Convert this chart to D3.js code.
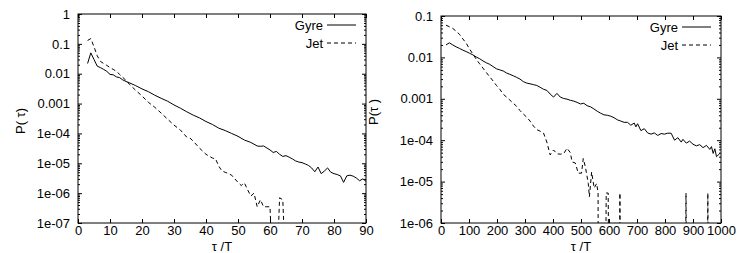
<!DOCTYPE html>
<html>
<head>
<meta charset="utf-8">
<script src="https://cdn.jsdelivr.net/npm/d3@7"></script>
<style>
  body { margin: 0; background: #fff; }
  svg { display: block; }
  text { font-family: "Liberation Sans", Arial, sans-serif; fill: #000; }
</style>
</head>
<body>
<div id="chart"></div>
<script>
//data, left panel (tau/T up to 90)//
var gyreLeftT = [3,4,5,6,7,8,9,10,11,12,13,14,15,16,18,20,22,24,26,28,30,32,34,36,38,40,42,44,46,48,50,52,54,56,57,58,60,61,62,63,64,65,66,67,68,69,70,71,72,73,74,75,76,77,78,79,80,81,82,83,84,85,86,87,88,89,90];
var gyreLeftP = [0.022,0.05,0.03,0.018,0.016,0.014,0.012,0.0095,0.0092,0.0078,0.0074,0.0062,0.0055,0.005,0.004,0.0031,0.0025,0.0019,0.0015,0.0012,9e-4,7e-4,5.3e-4,4.1e-4,3.3e-4,2.5e-4,2e-4,1.5e-4,1.25e-4,1e-4,8e-5,6e-5,5e-5,3.8e-5,3.7e-5,3.8e-5,2.8e-5,2.3e-5,2.5e-5,2e-5,1.7e-5,1.8e-5,1.6e-5,1.4e-5,1.2e-5,1.1e-5,1.05e-5,9.5e-6,8.5e-6,7e-6,5.2e-6,7.5e-6,4.5e-6,5.5e-6,7e-6,5e-6,4.5e-6,4.2e-6,3.8e-6,2.3e-6,3.8e-6,4e-6,3.7e-6,3.2e-6,2.6e-6,3e-6,2.5e-6];

var jetLeftT = [3,4,5,6,7,8,9,10,11,12,13,14,15,16,18,20,22,24,26,28,30,32,34,35,36,38,40,42,43,44,45,46,47,48,49,50,51,52,53,54,55,56,57,58,59,60,61,62,63,64,65];
var jetLeftP = [0.13,0.15,0.08,0.04,0.026,0.022,0.019,0.016,0.014,0.012,0.0095,0.0075,0.006,0.0045,0.0028,0.0018,0.0011,7.5e-4,4.8e-4,3e-4,1.9e-4,1.3e-4,7.5e-5,7e-5,5.5e-5,3.2e-5,2e-5,1.5e-5,1.4e-5,8e-6,5.5e-6,5e-6,4.5e-6,4e-6,3e-6,2.3e-6,1.8e-6,2.2e-6,1.3e-6,8e-7,1e-6,3.5e-7,6e-7,3.5e-7,3.5e-7,3.5e-7,1e-9,1e-9,7e-7,6e-7,1e-9];

//data, right panel (tau/T up to 1000)//
var gyreRightT = [18,30,42,54,66,78,90,102,114,126,138,150,162,174,186,198,210,222,234,246,258,270,282,294,306,318,330,342,354,366,378,390,402,414,426,438,450,462,474,486,498,510,522,534,546,558,570,582,594,606,618,630,642,654,666,678,690,696,702,714,726,738,750,762,774,786,798,810,822,834,846,858,864,876,888,900,912,924,936,948,960,966,972,978,984,996];
var gyreRightP = [0.02,0.0225,0.02,0.018,0.0165,0.015,0.0138,0.0126,0.0115,0.0102,0.0093,0.0082,0.0074,0.0068,0.006,0.0053,0.005,0.0047,0.0042,0.0039,0.0036,0.0033,0.003,0.0026,0.0024,0.0023,0.0022,0.0021,0.0019,0.0017,0.0016,0.0013,0.0011,0.00135,0.0011,0.00102,0.00098,0.00092,0.00088,0.00082,0.00075,0.00078,0.00068,0.00064,0.00057,0.0005,0.00045,0.00041,0.0004,0.00038,0.00035,0.00031,0.00029,0.00027,0.00027,0.00023,0.00026,0.00021,0.00025,0.00017,0.00019,0.00015,0.00014,0.00015,0.00013,0.000145,0.00014,0.000148,0.000147,0.0001,0.000115,0.00009,0.000105,0.000085,0.000095,0.00008,0.000073,0.000078,0.000066,0.000075,0.00006,0.00007,0.000048,0.000062,0.00004,0.000048];

var jetRightT = [18,30,42,54,66,78,90,102,114,126,138,150,162,174,186,198,210,222,234,246,258,270,282,294,306,318,330,342,354,366,378,390,402,414,426,438,450,462,468,480,490,502,508,516,526,530,538,547,556,561,562,586,590,597,601,636,639,642,872,875,878,950,953,956];
var jetRightP = [0.06,0.055,0.05,0.043,0.036,0.028,0.022,0.016,0.012,0.009,0.007,0.0055,0.0043,0.0034,0.0027,0.0021,0.0017,0.0013,0.0011,0.00093,0.00078,0.00066,0.00052,0.00043,0.00036,0.00029,0.00022,0.00018,0.000165,0.00015,0.00009,0.000044,0.000058,0.000047,0.000046,0.000047,0.000064,0.00005,0.00003,0.000028,0.000016,0.000016,0.000036,0.000022,0.000009,0.0000043,0.000017,0.000007,0.000009,0.0000053,1e-9,1e-9,5.3e-6,5.3e-6,1e-9,1e-9,5.3e-6,1e-9,1e-9,5.3e-6,1e-9,1e-9,5.3e-6,1e-9];

//ticks//
var leftXTicks = [0,10,20,30,40,50,60,70,80,90];
var leftYTicks = [1,0.1,0.01,0.001,1e-4,1e-5,1e-6,1e-7];
var leftYLabels = ["1","0.1","0.01","0.001","1e-04","1e-05","1e-06","1e-07"];
var rightXTicks = [0,100,200,300,400,500,600,700,800,900,1000];
var rightYTicks = [0.1,0.01,0.001,1e-4,1e-5,1e-6];
var rightYLabels = ["0.1","0.01","0.001","1e-04","1e-05","1e-06"];
var seriesNames = ["Gyre","Jet"];

var svg = d3.select("#chart").append("svg")
	.attr("width", 740)
	.attr("height", 253);

function minorTicks(ticks) {
	var out = [];
	ticks.forEach(function(t) {
		for (var k = 2; k <= 9; k++) {
			if (t * k * 1.0001 < d3.max(ticks)) out.push(t * k);
		}
	});
	return out;
}

function drawPanel(p) {
	var x = d3.scaleLinear().domain(p.xDomain).range([p.left, p.right]);
	var y = d3.scaleLog().domain(p.yDomain).range([p.bottom, p.top]);
	var g = svg.append("g").attr("id", p.id);
	var fontSize = "13px";

	// clip the curves at the frame
	g.append("clipPath").attr("id", p.id + "-clip")
		.append("rect")
		.attr("x", p.left).attr("y", p.top)
		.attr("width", p.right - p.left).attr("height", p.bottom - p.top);

	var ylab = d3.scaleOrdinal().domain(p.yTicks).range(p.yLabels);

	// axes, ticks pointing in (mirrored like gnuplot)
	g.append("g").attr("transform", "translate(0," + p.bottom + ")")
		.call(d3.axisBottom(x).tickValues(p.xTicks).tickFormat(d3.format("d")).tickSizeInner(-4).tickSizeOuter(0).tickPadding(3))
		.call(function(a) { a.select(".domain").remove(); })
		.selectAll("text").style("font-size", fontSize).attr("font-family", null);
	g.append("g").attr("transform", "translate(0," + p.top + ")")
		.call(d3.axisTop(x).tickValues(p.xTicks).tickFormat("").tickSizeInner(-4).tickSizeOuter(0))
		.call(function(a) { a.select(".domain").remove(); });
	g.append("g").attr("transform", "translate(" + p.left + ",0)")
		.call(d3.axisLeft(y).tickValues(p.yTicks).tickFormat(function(d) { return ylab(d); }).tickSizeInner(-4).tickSizeOuter(0).tickPadding(8))
		.call(function(a) { a.select(".domain").remove(); })
		.selectAll("text").style("font-size", fontSize).attr("font-family", null);
	g.append("g").attr("transform", "translate(" + p.right + ",0)")
		.call(d3.axisRight(y).tickValues(p.yTicks).tickFormat("").tickSizeInner(-4).tickSizeOuter(0))
		.call(function(a) { a.select(".domain").remove(); });
	g.append("g").attr("transform", "translate(" + p.left + ",0)")
		.call(d3.axisLeft(y).tickValues(minorTicks(p.yTicks)).tickFormat("").tickSizeInner(-2).tickSizeOuter(0))
		.call(function(a) { a.select(".domain").remove(); });
	g.append("g").attr("transform", "translate(" + p.right + ",0)")
		.call(d3.axisRight(y).tickValues(minorTicks(p.yTicks)).tickFormat("").tickSizeInner(-2).tickSizeOuter(0))
		.call(function(a) { a.select(".domain").remove(); });

	// frame
	g.append("rect")
		.attr("x", p.left).attr("y", p.top)
		.attr("width", p.right - p.left).attr("height", p.bottom - p.top)
		.attr("fill", "none").attr("stroke", "#000").attr("stroke-width", 1);

	var line = d3.line()
		.x(function(d) { return x(d[0]); })
		.y(function(d) { return y(d[1]); });

	g.append("path")
		.datum(d3.zip(p.gyreT, p.gyreP))
		.attr("clip-path", "url(#" + p.id + "-clip)")
		.attr("d", line)
		.attr("fill", "none").attr("stroke", "#000").attr("stroke-width", 1);

	g.append("path")
		.datum(d3.zip(p.jetT, p.jetP))
		.attr("clip-path", "url(#" + p.id + "-clip)")
		.attr("d", line)
		.attr("fill", "none").attr("stroke", "#000").attr("stroke-width", 1)
		.attr("stroke-dasharray", "4,3");

	// key
	seriesNames.forEach(function(name, i) {
		var ky = p.top + 11 + i * 18;
		g.append("text")
			.attr("x", p.right - 43).attr("y", ky + 4.5)
			.attr("text-anchor", "end")
			.style("font-size", fontSize)
			.text(name);
		g.append("line")
			.attr("x1", p.right - 39).attr("x2", p.right - 10)
			.attr("y1", ky).attr("y2", ky)
			.attr("stroke", "#000").attr("stroke-width", 1)
			.attr("stroke-dasharray", i == 1 ? "4,3" : null);
	});

	// axis titles
	g.append("text")
		.attr("x", (p.left + p.right) / 2).attr("y", 250.5)
		.attr("text-anchor", "middle")
		.style("font-size", fontSize)
		.text("τ /T");
	g.append("text")
		.attr("transform", "translate(" + p.yTitleX + "," + p.yTitleY + ") rotate(-90)")
		.attr("text-anchor", "middle")
		.style("font-size", fontSize)
		.text(p.yTitle);
}

drawPanel({
	id: "left", left: 78, right: 366, top: 14, bottom: 223,
	xDomain: [0, 90], yDomain: [1e-7, 1],
	xTicks: leftXTicks, yTicks: leftYTicks, yLabels: leftYLabels,
	gyreT: gyreLeftT, gyreP: gyreLeftP, jetT: jetLeftT, jetP: jetLeftP,
	yTitle: "P( τ)", yTitleX: 25, yTitleY: 121
});

drawPanel({
	id: "right", left: 441, right: 721, top: 16, bottom: 223,
	xDomain: [0, 1000], yDomain: [1e-6, 0.1],
	xTicks: rightXTicks, yTicks: rightYTicks, yLabels: rightYLabels,
	gyreT: gyreRightT, gyreP: gyreRightP, jetT: jetRightT, jetP: jetRightP,
	yTitle: "P(τ )", yTitleX: 378, yTitleY: 112
});
</script>
</body>
</html>
